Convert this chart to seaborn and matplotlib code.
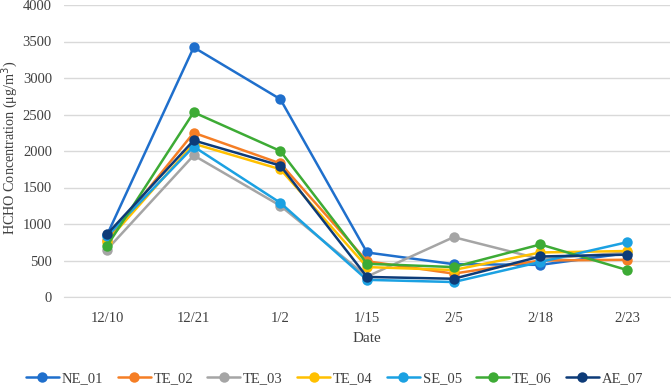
import matplotlib
matplotlib.use("Agg")
import matplotlib.pyplot as plt
import pandas as pd
import seaborn as sb

dates = ["12/10", "12/21", "1/2", "1/15", "2/5", "2/18", "2/23"]

NE_01 = [850, 3420, 2710, 610, 450, 440, 600]
TE_02 = [780, 2250, 1830, 490, 320, 500, 510]
TE_03 = [650, 1940, 1250, 280, 820, 520, 610]
TE_04 = [760, 2100, 1750, 410, 370, 610, 630]
SE_05 = [830, 2060, 1290, 235, 205, 480, 750]
TE_06 = [700, 2530, 2000, 455, 410, 720, 370]
AE_07 = [860, 2145, 1800, 275, 250, 555, 580]

names = ["NE_01", "TE_02", "TE_03", "TE_04", "SE_05", "TE_06", "AE_07"]
series = [NE_01, TE_02, TE_03, TE_04, SE_05, TE_06, AE_07]
colors = ["#1f6fcc", "#f57e25", "#a5a5a5", "#ffc000", "#1ba1e2", "#3dab35", "#0d3b78"]

rows = []
for name, vals in zip(names, series):
    for i, v in enumerate(vals):
        rows.append({"Date": i, "Site": name, "HCHO": v})
df = pd.DataFrame(rows)

sb.set_style("white")
plt.rcParams['font.family'] = ['Liberation Serif', 'DejaVu Serif']

fig = plt.figure(figsize=(6.71, 3.88), dpi=100)
# plot area in pixels: x 63.7..670.3, y 5..297
ax = fig.add_axes([63.7/671, 1 - 297/388, (670.3-63.7)/671, (297-5)/388])

sb.lineplot(data=df, x="Date", y="HCHO", hue="Site", palette=colors,
            marker="o", markersize=7.5, markeredgewidth=0, linewidth=1.8,
            ax=ax, legend=True)

ax.set_xlim(-0.5, 6.5)
ax.set_ylim(0, 4000)
ax.set_yticks(range(0, 4001, 500))
ax.set_xticks(range(len(dates)))
ax.set_xticklabels(dates)
ax.grid(axis="y", color="#d9d9d9", linewidth=1)
ax.set_axisbelow(True)
for s in ["top", "right", "left"]:
    ax.spines[s].set_visible(False)
ax.spines["bottom"].set_color("#d9d9d9")
ax.tick_params(axis="both", length=0, labelsize=10.5, colors="#404040")
ax.tick_params(axis="x", pad=11)
ax.tick_params(axis="y", pad=8.5)
ax.set_xlabel("Date", fontsize=11, color="#404040", labelpad=5)
ax.set_ylabel("HCHO Concentration (μg/m$^3$)", fontsize=10.2, color="#404040")
ax.yaxis.set_label_coords(-0.072, 0.51)

handles, labels = ax.get_legend_handles_labels()
ax.get_legend().remove()

# fit legend to span roughly x 26..643 px like the reference
fs = 10.5
cs = 0.9
target = 617 + 2 * 0.4 * fs * 100 / 72
for _ in range(3):
    leg = fig.legend(handles, labels, loc="center",
                     bbox_to_anchor=(334.5/671, 1 - 379/388),
                     ncol=7, frameon=False, fontsize=fs, handlelength=2.26,
                     handletextpad=0.2, columnspacing=cs, labelcolor="#404040")
    fig.canvas.draw()
    w = leg.get_window_extent(fig.canvas.get_renderer()).width
    cs = cs + (target - w) / 6 / (fs * 100 / 72)
    leg.remove()
fig.legend(handles, labels, loc="center", bbox_to_anchor=(334.5/671, 1 - 379/388),
           ncol=7, frameon=False, fontsize=fs, handlelength=2.26,
           handletextpad=0.2, columnspacing=cs, labelcolor="#404040")

fig.savefig("out.png", dpi=100)
